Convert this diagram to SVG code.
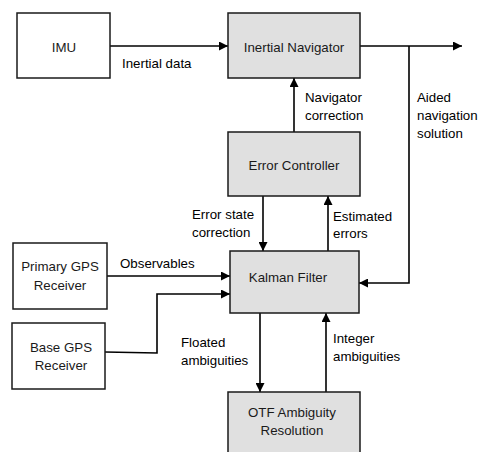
<svg xmlns="http://www.w3.org/2000/svg" width="484" height="452" viewBox="0 0 484 452">
<style>
.box{stroke:#1a1a1a;stroke-width:1.5;}
.w{fill:#ffffff;}
.g{fill:#e0e0e0;}
.t{font-family:"Liberation Sans",Arial,sans-serif;font-size:13.3px;fill:#1a1a1a;}
.m{text-anchor:middle;}
.lbl{font-family:"Liberation Sans",Arial,sans-serif;font-size:13.3px;fill:#000;}
.c{fill:none;stroke:#000;stroke-width:1.6;}
</style>
<defs>
<marker id="ah" viewBox="0 0 10 10" refX="10" refY="5" markerWidth="10" markerHeight="9" markerUnits="userSpaceOnUse" orient="auto">
<path d="M0,0 L10,5 L0,10 Z" fill="#000"/>
</marker>
</defs>
<rect width="484" height="452" fill="#ffffff"/>
<g id="connectors">
<line class="c" x1="110" y1="46" x2="228" y2="46" marker-end="url(#ah)"/>
<line class="c" x1="360" y1="46" x2="462" y2="46" marker-end="url(#ah)"/>
<polyline class="c" points="409,46 409,283 359,283" marker-end="url(#ah)"/>
<line class="c" x1="294" y1="132" x2="294" y2="78" marker-end="url(#ah)"/>
<line class="c" x1="263" y1="196" x2="263" y2="251" marker-end="url(#ah)"/>
<line class="c" x1="328" y1="251" x2="328" y2="196" marker-end="url(#ah)"/>
<line class="c" x1="107" y1="276" x2="230" y2="276" marker-end="url(#ah)"/>
<polyline class="c" points="105,352 157,353 157,294 230,294" marker-end="url(#ah)"/>
<line class="c" x1="260" y1="313" x2="260" y2="392" marker-end="url(#ah)"/>
<line class="c" x1="326" y1="392" x2="326" y2="313" marker-end="url(#ah)"/>
<text class="lbl" x="122" y="68">Inertial data</text>
<text class="lbl" x="305" y="102">Navigator</text>
<text class="lbl" x="305" y="120">correction</text>
<text class="lbl" x="417" y="102">Aided</text>
<text class="lbl" x="417" y="120">navigation</text>
<text class="lbl" x="417" y="138">solution</text>
<text class="lbl" x="192" y="219">Error state</text>
<text class="lbl" x="192" y="237">correction</text>
<text class="lbl" x="333" y="221">Estimated</text>
<text class="lbl" x="333" y="238">errors</text>
<text class="lbl" x="120" y="268">Observables</text>
<text class="lbl" x="181" y="347">Floated</text>
<text class="lbl" x="181" y="365">ambiguities</text>
<text class="lbl" x="333" y="343">Integer</text>
<text class="lbl" x="333" y="361">ambiguities</text>
</g>
<g id="imu">
<rect class="box w" x="17" y="13" width="93" height="65"/>
<text class="t m" x="64" y="52">IMU</text>
</g>
<g id="inertial-navigator">
<rect class="box g" x="228" y="13" width="132" height="65"/>
<text class="t m" x="294" y="52">Inertial Navigator</text>
</g>
<g id="error-controller">
<rect class="box g" x="228" y="132" width="132" height="64"/>
<text class="t m" x="294" y="170">Error Controller</text>
</g>
<g id="kalman-filter">
<rect class="box g" x="230" y="251" width="129" height="62"/>
<text class="t m" x="288" y="282">Kalman Filter</text>
</g>
<g id="primary-gps">
<rect class="box w" x="13" y="243" width="94" height="66"/>
<text class="t m" x="60" y="271">Primary GPS</text>
<text class="t m" x="60" y="290">Receiver</text>
</g>
<g id="base-gps">
<rect class="box w" x="12" y="323" width="93" height="66"/>
<text class="t m" x="61" y="352">Base GPS</text>
<text class="t m" x="61" y="370">Receiver</text>
</g>
<g id="otf">
<rect class="box g" x="228" y="392" width="132" height="64"/>
<text class="t m" x="292" y="417">OTF Ambiguity</text>
<text class="t m" x="292" y="435">Resolution</text>
</g>
</svg>
